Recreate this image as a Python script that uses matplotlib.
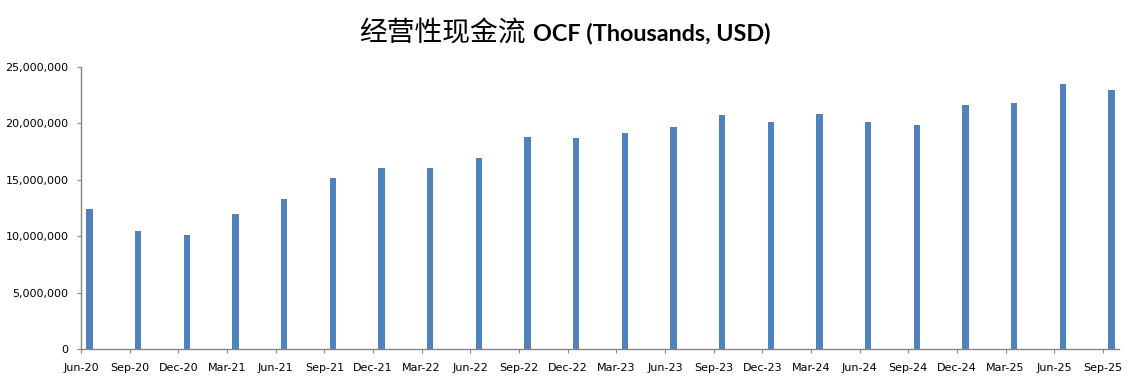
import matplotlib
matplotlib.use("Agg")
import matplotlib.pyplot as plt
from matplotlib.ticker import FuncFormatter

quarters = ["Jun-20", "Sep-20", "Dec-20", "Mar-21", "Jun-21", "Sep-21",
            "Dec-21", "Mar-22", "Jun-22", "Sep-22", "Dec-22", "Mar-23",
            "Jun-23", "Sep-23", "Dec-23", "Mar-24", "Jun-24", "Sep-24",
            "Dec-24", "Mar-25", "Jun-25", "Sep-25"]

ocf = [12430000, 10480000, 10120000, 11990000, 13320000, 15190000,
       16010000, 16070000, 16960000, 18830000, 18740000, 19180000,
       19720000, 20780000, 20160000, 20870000, 20160000, 19890000,
       21670000, 21850000, 23450000, 23000000]

yticks = [0, 5000000, 10000000, 15000000, 20000000, 25000000]

fig = plt.figure(figsize=(11.43, 3.87), dpi=100)
ax = fig.add_axes([81 / 1143, 1 - 349 / 387, (1119 - 81) / 1143, (349 - 67) / 387])

x = list(range(len(quarters)))
# bars sit just right of their date tick, like an Excel date axis
ax.bar([i + 0.175 for i in x], ocf, width=0.135, color="#4F81BD")

ax.set_xlim(0, len(quarters) - 1 + 0.33)
ax.set_ylim(0, 25000000)
ax.set_xticks(x)
ax.set_xticklabels(quarters, fontsize=8)
ax.set_yticks(yticks)
ax.yaxis.set_major_formatter(FuncFormatter(lambda v, p: f"{int(v):,}"))
ax.tick_params(axis="y", labelsize=8, length=3, pad=6, color="#868686")
ax.tick_params(axis="x", labelsize=8, length=3, pad=7, color="#868686")

for side in ["top", "right"]:
    ax.spines[side].set_visible(False)
for side in ["left", "bottom"]:
    ax.spines[side].set_color("#868686")
    ax.spines[side].set_linewidth(1)

fig.text(526 / 1143, 1 - 33 / 387, "经营性现金流", ha="right", va="center",
         fontsize=20, family=["Noto Sans CJK SC", "DejaVu Sans"])
fig.text(533 / 1143, 1 - 33 / 387, "OCF (Thousands, USD)", ha="left", va="center",
         fontsize=16.8, family="Lato", fontweight="bold")

fig.savefig("out.png", dpi=100)
